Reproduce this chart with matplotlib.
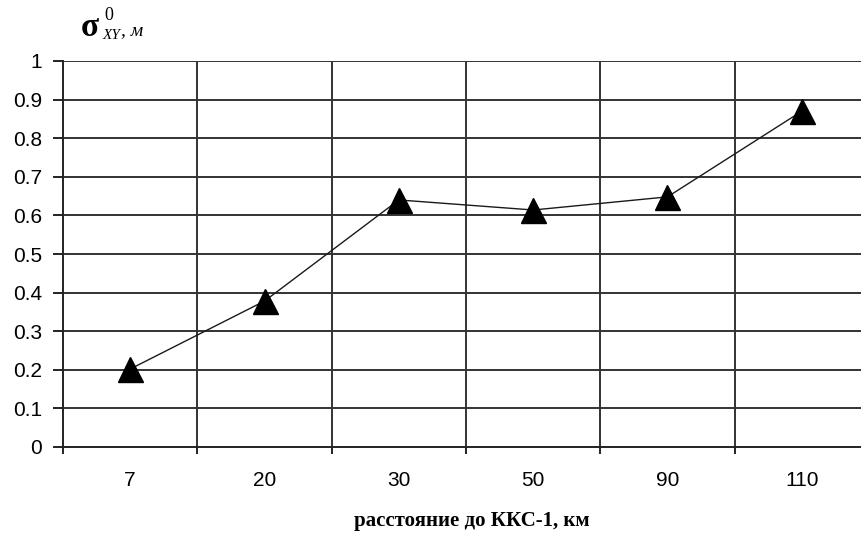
import matplotlib
matplotlib.use("Agg")
import matplotlib.pyplot as plt
import numpy as np

categories = ["7", "20", "30", "50", "90", "110"]
values = [0.202, 0.378, 0.640, 0.614, 0.648, 0.870]
y_ticks = [0, 0.1, 0.2, 0.3, 0.4, 0.5, 0.6, 0.7, 0.8, 0.9, 1]
y_tick_labels = ["0", "0.1", "0.2", "0.3", "0.4", "0.5", "0.6", "0.7", "0.8", "0.9", "1"]
x_label = "расстояние до ККС-1, км"

W, H = 862, 534
fig = plt.figure(figsize=(W / 100, H / 100), dpi=100)
left, right, top, bottom = 63, 869, 61, 447
ax = fig.add_axes([left / W, 1 - bottom / H, (right - left) / W, (bottom - top) / H])

x = np.arange(len(categories))
ax.plot(x, values, color="#1a1a1a", lw=1.0, marker="^", markersize=18,
        markerfacecolor="black", markeredgecolor="black", zorder=3, clip_on=False)

ax.set_xlim(-0.5, len(categories) - 0.5)
ax.set_ylim(0, 1)

# grid
for yv in y_ticks[1:]:
    ax.axhline(yv, color="#333333", lw=1.4, zorder=1)
for b in np.arange(0.5, len(categories) - 0.5, 1):
    ax.axvline(b, color="#333333", lw=1.4, zorder=1)

for s in ["top", "right"]:
    ax.spines[s].set_visible(False)
ax.spines["left"].set_color("#222222")
ax.spines["bottom"].set_color("#222222")
ax.spines["left"].set_linewidth(1.4)
ax.spines["bottom"].set_linewidth(1.4)

ax.set_yticks(y_ticks)
ax.set_yticklabels(y_tick_labels, fontfamily="Liberation Sans", fontsize=15)
ax.tick_params(axis="y", length=7, width=1.4, color="#222222", pad=8)

ax.set_xticks(np.arange(-0.5, len(categories), 1))
ax.set_xticklabels([])
ax.tick_params(axis="x", which="major", length=5, width=1.4, color="#222222")
ax.set_xticks(x, minor=True)
ax.set_xticklabels(categories, minor=True, fontfamily="Liberation Sans", fontsize=15)
ax.tick_params(axis="x", which="minor", length=0, pad=17)

fig.text(472 / W, 1 - 521 / H, x_label, ha="center", va="center",
         fontfamily="Liberation Serif", fontweight="bold", fontsize=15)

# y-axis title: sigma^0_XY, м
fig.text(81 / W, 1 - 27 / H, "σ", ha="left", va="center",
         fontfamily="Liberation Serif", fontweight="bold", fontsize=24)
fig.text(104 / W, 1 - 15 / H, "0", ha="left", va="center",
         fontfamily="Liberation Serif", fontsize=13)
fig.text(103 / W, 1 - 36 / H, "XY", ha="left", va="center",
         fontfamily="Liberation Serif", fontstyle="italic", fontsize=11)
fig.text(121 / W, 1 - 31 / H, ", м", ha="left", va="center",
         fontfamily="Liberation Serif", fontstyle="italic", fontsize=14)

fig.savefig("out.png", dpi=100)
